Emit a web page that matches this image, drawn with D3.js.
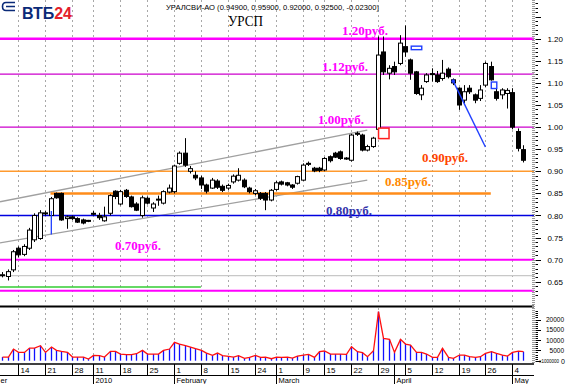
<!DOCTYPE html>
<html><head><meta charset="utf-8">
<script src="https://cdn.jsdelivr.net/npm/d3@7"></script>
<style>body{margin:0;background:#fff;overflow:hidden}svg{display:block}</style>
</head><body>
<svg id="c" width="568" height="384"></svg>
<script>
// ---------------- DATA ----------------
const dates = [
 "2009-12-09","2009-12-10","2009-12-11","2009-12-14","2009-12-15","2009-12-16","2009-12-17","2009-12-18",
 "2009-12-21","2009-12-22","2009-12-23","2009-12-24","2009-12-25","2009-12-28","2009-12-29","2009-12-30","2009-12-31",
 "2010-01-11","2010-01-12","2010-01-13","2010-01-14","2010-01-15","2010-01-18","2010-01-19","2010-01-20","2010-01-21","2010-01-22",
 "2010-01-25","2010-01-26","2010-01-27","2010-01-28","2010-01-29",
 "2010-02-01","2010-02-02","2010-02-03","2010-02-04","2010-02-05","2010-02-08","2010-02-09","2010-02-10","2010-02-11","2010-02-12",
 "2010-02-15","2010-02-16","2010-02-17","2010-02-18","2010-02-19","2010-02-24","2010-02-25","2010-02-26","2010-02-27",
 "2010-03-01","2010-03-02","2010-03-03","2010-03-04","2010-03-05","2010-03-09","2010-03-10","2010-03-11","2010-03-12",
 "2010-03-15","2010-03-16","2010-03-17","2010-03-18","2010-03-19","2010-03-22","2010-03-23","2010-03-24","2010-03-25","2010-03-26",
 "2010-03-29","2010-03-30","2010-03-31",
 "2010-04-01","2010-04-02","2010-04-05","2010-04-06","2010-04-07","2010-04-08","2010-04-09","2010-04-12","2010-04-13","2010-04-14",
 "2010-04-15","2010-04-16","2010-04-19","2010-04-20","2010-04-21","2010-04-22","2010-04-23","2010-04-26","2010-04-27","2010-04-28",
 "2010-04-29","2010-04-30","2010-05-04","2010-05-05","2010-05-06"
];
const open = [
 .665,.662,.677,.726,.712,.726,.745,.748,.804,.800,.850,.850,.793,.797,.793,.790,.789,
 .805,.800,.788,.805,.855,.826,.857,.842,.826,.800,.839,.817,.836,.828,.853,
 .854,.918,.941,.900,.891,.885,.869,.862,.878,.866,.862,.876,.880,.880,.862,.850,.850,.850,.835,
 .859,.876,.874,.869,.873,.880,.918,.907,.907,.903,.933,.941,.944,.930,.925,.986,.982,.948,.956,
 .995,1.170,1.122,1.137,1.144,1.182,1.152,1.125,1.073,1.103,1.121,1.118,1.110,1.131,1.107,1.088,1.061,1.088,1.073,1.065,
 1.095,1.137,1.080,1.073,1.076,1.078,.990,.949
];
const high = [
 .672,.678,.722,.730,.735,.772,.805,.812,.810,.842,.852,.852,.800,.800,.796,.793,.790,
 .810,.806,.820,.848,.857,.858,.860,.845,.830,.845,.843,.830,.845,.857,.870,
 .915,.945,.975,.912,.900,.890,.872,.885,.882,.870,.872,.893,.907,.884,.865,.860,.853,.853,.860,
 .878,.879,.876,.871,.890,.918,.922,.910,.910,.932,.936,.944,.947,.932,.985,.990,.985,.960,.978,
 1.205,1.205,1.140,1.148,1.208,1.230,1.155,1.127,1.095,1.122,1.133,1.127,1.152,1.135,1.110,1.090,1.095,1.095,1.076,1.095,
 1.148,1.148,1.088,1.088,1.088,1.088,.997,.959
];
const low = [
 .660,.653,.672,.705,.708,.722,.740,.745,.800,.797,.838,.788,.770,.790,.783,.780,.785,
 .800,.790,.786,.800,.837,.823,.840,.818,.810,.795,.825,.808,.822,.825,.850,
 .850,.915,.910,.895,.880,.860,.850,.860,.860,.853,.858,.872,.877,.862,.850,.846,.835,.812,.832,
 .856,.868,.866,.860,.870,.878,.912,.898,.898,.900,.920,.930,.926,.926,.922,.980,.945,.945,.953,
 .990,1.118,1.108,1.118,1.140,1.159,1.107,1.073,1.061,1.100,1.103,1.100,1.105,1.110,1.095,1.039,1.054,1.075,1.054,1.059,
 1.090,1.105,1.060,1.063,1.042,.995,.945,.920
];
const close = [
 .666,.673,.718,.711,.730,.767,.800,.806,.806,.838,.840,.790,.797,.793,.785,.783,.787,
 .804,.795,.797,.845,.843,.854,.843,.820,.812,.840,.828,.826,.837,.854,.862,
 .912,.941,.914,.906,.885,.869,.855,.880,.864,.857,.868,.889,.891,.865,.854,.856,.839,.835,.857,
 .874,.871,.869,.864,.888,.914,.917,.901,.902,.929,.924,.932,.929,.928,.982,.985,.948,.956,.975,
 1.163,1.125,1.133,1.125,1.190,1.170,1.122,1.076,1.088,1.118,1.119,1.103,1.122,1.114,1.100,1.050,1.080,1.080,1.061,1.084,
 1.144,1.107,1.065,1.084,1.083,1.000,.952,.925
];
const volume = [
 1780,1780,5660,4045,4045,6150,6150,7280,4045,6630,5015,4530,4045,1780,1780,1780,810,
 2590,2430,1780,4530,4530,3240,2910,2910,3400,5015,3240,3240,3240,5015,5660,
 8900,8090,7280,6630,5820,5015,3720,2590,3720,2430,2100,1780,2430,1130,1620,2590,1620,1780,970,
 1780,1620,1780,1290,2265,2750,3075,1620,4370,4690,3235,3235,3235,3075,6800,4370,3880,1940,4850,
 23785,10840,10355,4045,10355,8090,7600,4045,4045,3235,1620,1620,5990,1620,1130,2750,2750,1940,1620,1940,
 3560,4370,3560,2750,2265,4045,4690,4370
];
const priceTickValues = [0.65,0.70,0.75,0.80,0.85,0.90,0.95,1.00,1.05,1.10,1.15,1.20];
const volumeTickValues = [5000,10000,15000,20000];
const weekTicks = [
 ["2009-12-14","14"],["2009-12-21","21"],["2009-12-28","28"],["2010-01-11","11"],["2010-01-18","18"],
 ["2010-01-25","25"],["2010-02-01","1"],["2010-02-08","8"],["2010-02-15","15"],["2010-02-24","24"],
 ["2010-03-01","1"],["2010-03-09","9"],["2010-03-15","15"],["2010-03-22","22"],["2010-03-29","29"],
 ["2010-04-05","5"],["2010-04-12","12"],["2010-04-19","19"],["2010-04-26","26"],["2010-05-04","4"]
];
const monthTicks = [
 ["2010-01-11","2010"],["2010-02-01","February"],["2010-03-01","March"],["2010-04-01","April"],["2010-05-04","May"]
];
const firstMonthTail = "er"; // visible tail of "December" at the left edge
const levelPrices = [1.20,1.12,1.00,0.90,0.85,0.80,0.70,0.63];
const levelLabels = ["1.20руб.","1.12руб.","1.00руб.","0.90руб.","0.85руб.","0.80руб.","0.70руб.",""];
const title = "УРАЛСВИ-АО (0.94900, 0.95900, 0.92000, 0.92500, -0.02300)";
const subtitle = "УРСП";
// annotations in data terms
const upperTrend = [["2009-12-09",0.832],["2010-03-25",0.993]];
const lowerTrend = [["2009-12-09",0.739],["2010-03-25",0.880]];
const downLine = [["2010-04-16",1.104],["2010-04-26",0.955]];
const grayLevel = 0.664, greenLevel = 0.638;
const greenEnd = "2010-02-08";
const orangeSpan = ["2009-12-22","2010-04-27"];

// ---------------- LAYOUT / STYLE ----------------
const svg = d3.select("#c");
const plotRight = 534;
const x = d3.scalePoint().domain(dates).range([2.2, 523]);
const y = d3.scaleLinear().domain([0.70, 1.20]).range([259.7, 38.7]);
const yv = d3.scaleLinear().domain([0, 20000]).range([360.7, 319.5]);
const X = d => Math.round(x(d)) + 0.5;
const SANS = "'Liberation Sans',Arial,sans-serif";

const levelStyle = [
 {c:"#ff00ff", w:2.5, lc:"#ff00ff", lx:342, ly:-4},
 {c:"#cc00cc", w:1.3, lc:"#ff00ff", lx:322, ly:-3},
 {c:"#cc00cc", w:1.3, lc:"#ff00ff", lx:318, ly:-3},
 {c:"#ff9a2e", w:1.6, lc:"#ff4400", lx:422, ly:-9},
 {c:"#ff8c1a", w:2.5, lc:"#ff8800", lx:385, ly:-7},
 {c:"#0000e0", w:1.6, lc:"#3333aa", lx:326, ly:-0.5},
 {c:"#ff00ff", w:2, lc:"#ff00ff", lx:115, ly:-10},
 {c:"#ff00ff", w:2, lc:"#ff00ff", lx:0, ly:0}
];

// ---- vertical dashed grid ----
const grid = svg.append("g");
weekTicks.forEach(([d]) => {
  grid.append("line").attr("x1",X(d)).attr("x2",X(d)).attr("y1",0).attr("y2",305)
    .attr("stroke","#a8a8a8").attr("stroke-dasharray","2,3");
  grid.append("line").attr("x1",X(d)).attr("x2",X(d)).attr("y1",308).attr("y2",363)
    .attr("stroke","#a8a8a8").attr("stroke-dasharray","2,3");
});

// ---- horizontal guide lines ----
svg.append("line").attr("x1",0).attr("x2",plotRight).attr("y1",y(grayLevel)).attr("y2",y(grayLevel))
  .attr("stroke","#c8c8c8").attr("stroke-width",1.2);
svg.append("line").attr("x1",0).attr("x2",x(greenEnd)).attr("y1",y(greenLevel)).attr("y2",y(greenLevel))
  .attr("stroke","#33cc33").attr("stroke-width",1.5);

// trend lines (extended to the left edge)
function extend(seg){
  const x0=x(seg[0][0]), x1=x(seg[1][0]), y0=y(seg[0][1]), y1=y(seg[1][1]);
  const s=(y1-y0)/(x1-x0);
  return [[0, y0 - s*x0],[x1,y1]];
}
[upperTrend, lowerTrend].forEach(seg => {
  const p = extend(seg);
  svg.append("line").attr("x1",p[0][0]).attr("y1",p[0][1]).attr("x2",p[1][0]).attr("y2",p[1][1])
    .attr("stroke","#a0a0a0").attr("stroke-width",1.3);
});

// level lines
levelPrices.forEach((p,i) => {
  const st = levelStyle[i];
  const x1 = p===0.85 ? x(orangeSpan[0]) : 0;
  const x2 = p===0.85 ? x(orangeSpan[1]) : plotRight;
  svg.append("line").attr("x1",x1).attr("x2",x2).attr("y1",y(p)).attr("y2",y(p))
    .attr("stroke",st.c).attr("stroke-width",st.w);
});

// ---- candles ----
const cg = svg.append("g");
dates.forEach((d,i) => {
  const cx = X(d);
  cg.append("line").attr("x1",cx).attr("x2",cx).attr("y1",y(high[i])).attr("y2",y(low[i]))
    .attr("stroke","#000").attr("stroke-width",1);
  const top = y(Math.max(open[i],close[i])), bot = y(Math.min(open[i],close[i]));
  const up = close[i] >= open[i];
  cg.append("rect").attr("x",cx-2).attr("width",4)
    .attr("y",top).attr("height",Math.max(bot-top,1))
    .attr("fill", up ? "#fff" : "#000").attr("stroke","#000").attr("stroke-width",1);
});

// annotations
svg.append("line").attr("x1",x(downLine[0][0])).attr("y1",y(downLine[0][1]))
  .attr("x2",x(downLine[1][0])).attr("y2",y(downLine[1][1]))
  .attr("stroke","#1f3fff").attr("stroke-width",1.4);
svg.append("circle").attr("cx",x(downLine[0][0])).attr("cy",y(downLine[0][1])).attr("r",1.8).attr("fill","#1f3fff");
svg.append("line").attr("x1",x("2009-12-22")+0.8).attr("x2",x("2009-12-22")+0.8)
  .attr("y1",y(0.81)).attr("y2",y(0.757)).attr("stroke","#1f3fff").attr("stroke-width",1.3);
svg.append("rect").attr("x",x("2010-03-29")+0.5).attr("y",y(1.00)+1).attr("width",10.5).attr("height",10.5)
  .attr("fill","#fff").attr("stroke","#ff2020").attr("stroke-width",1.5);
svg.append("rect").attr("x",x("2010-04-06")+1).attr("y",y(1.182)-0.5).attr("width",10.5).attr("height",3.5)
  .attr("fill","#fff").attr("stroke","#1f3fff").attr("stroke-width",1.4);
svg.append("rect").attr("x",x("2010-04-27")+0.5).attr("y",y(1.102)).attr("width",5.5).attr("height",6.5)
  .attr("fill","#fff").attr("stroke","#1f3fff").attr("stroke-width",1.4);

// level labels
levelPrices.forEach((p,i) => {
  if(!levelLabels[i]) return;
  const st = levelStyle[i];
  svg.append("text").attr("x",st.lx).attr("y",y(p)+st.ly).text(levelLabels[i])
    .attr("font-family","'Liberation Serif','Times New Roman',serif").attr("font-weight","bold")
    .attr("font-size","13px").attr("fill",st.lc);
});

// ---- volume panel ----
svg.append("line").attr("x1",0).attr("x2",plotRight).attr("y1",306.5).attr("y2",306.5)
  .attr("stroke","#000").attr("stroke-width",2);
const vg = svg.append("g");
dates.forEach((d,i) => {
  vg.append("line").attr("x1",X(d)).attr("x2",X(d)).attr("y1",yv(0)).attr("y2",yv(volume[i]))
    .attr("stroke","#1010ff").attr("stroke-width",1.3);
});
vg.append("path").datum(volume).attr("fill","none").attr("stroke","#ff1010").attr("stroke-width",1.3)
  .attr("d", d3.line().x((v,i)=>X(dates[i])).y(v=>yv(v)));

// ---- right axes ----
svg.append("line").attr("x1",533.5).attr("x2",533.5).attr("y1",0).attr("y2",364)
  .attr("stroke","#9a9a9a").attr("stroke-width",3).attr("stroke-dasharray","1,1");
d3.range(62, 129).map(v => v/100).forEach(v => {
  const major = Math.round(v*100) % 5 === 0;
  svg.append("line").attr("x1",535.5).attr("x2",major?541:538).attr("y1",Math.round(y(v))+0.5).attr("y2",Math.round(y(v))+0.5)
    .attr("stroke","#000");
});
priceTickValues.forEach(v => {
  svg.append("text").attr("x",563).attr("y",y(v)+3).attr("text-anchor","end")
    .attr("font-family",SANS).attr("font-size","8px").attr("fill","#000")
    .text(d3.format(".2f")(v));
});
d3.range(0, 24001, 1000).forEach(v => {
  const major = v % 5000 === 0;
  svg.append("line").attr("x1",535.5).attr("x2",major?541:538).attr("y1",Math.round(yv(v))+0.5).attr("y2",Math.round(yv(v))+0.5)
    .attr("stroke","#000");
});
volumeTickValues.forEach(v => {
  svg.append("text").attr("x",564).attr("y",yv(v)+2.5).attr("text-anchor","end")
    .attr("font-family",SANS).attr("font-size","6.5px").attr("fill","#000")
    .text(v);
});
svg.append("text").attr("x",559).attr("y",yv(0)+2).attr("text-anchor","end")
  .attr("font-family",SANS).attr("font-size","4.5px").text("x1000000");
svg.append("text").attr("x",565).attr("y",yv(0)+3).attr("text-anchor","end")
  .attr("font-family",SANS).attr("font-size","7px").text("0");

// ---- bottom date axis ----
svg.append("line").attr("x1",0).attr("x2",plotRight).attr("y1",364).attr("y2",364).attr("stroke","#000").attr("stroke-width",1.5);
svg.append("line").attr("x1",0).attr("x2",plotRight).attr("y1",375.5).attr("y2",375.5).attr("stroke","#000").attr("stroke-width",1);
weekTicks.forEach(([d,l]) => {
  svg.append("line").attr("x1",X(d)).attr("x2",X(d)).attr("y1",364).attr("y2",375).attr("stroke","#000");
  svg.append("text").attr("x",X(d)+2).attr("y",373).text(l)
    .attr("font-family",SANS).attr("font-size","8px").attr("fill","#000");
});
svg.append("line").attr("x1",X("2010-04-01")).attr("x2",X("2010-04-01")).attr("y1",364).attr("y2",384).attr("stroke","#000");
monthTicks.forEach(([d,l]) => {
  svg.append("line").attr("x1",X(d)).attr("x2",X(d)).attr("y1",375).attr("y2",384).attr("stroke","#000");
  svg.append("text").attr("x",X(d)+2).attr("y",383).text(l)
    .attr("font-family",SANS).attr("font-size","7.5px").attr("fill","#000");
});
svg.append("text").attr("x",0.5).attr("y",383).text(firstMonthTail)
  .attr("font-family",SANS).attr("font-size","7.5px").attr("fill","#000");

// ---- header ----
svg.append("text").attr("x",166).attr("y",10).text(title)
  .attr("font-family",SANS).attr("font-size","7.5px").attr("fill","#000")
  .attr("textLength",213).attr("lengthAdjust","spacingAndGlyphs");
svg.append("text").attr("x",228).attr("y",26).text(subtitle)
  .attr("font-family","'Liberation Serif','Times New Roman',serif").attr("font-size","14px").attr("fill","#000")
  .attr("textLength",35).attr("lengthAdjust","spacingAndGlyphs");

// logo
const logo = svg.append("g");
logo.append("path").attr("d","M15,2.5 H6 Q2.5,2.5 2.5,6.5 Q2.5,10.5 6,10.5 H15 M6,6.5 H15")
  .attr("fill","none").attr("stroke","#0a2a78").attr("stroke-width",1.6);
logo.append("text").attr("x",22).attr("y",18.5).attr("font-family",SANS)
  .attr("font-weight","bold").attr("font-size","16px")
  .call(t => { t.append("tspan").attr("fill","#0a2a78").text("ВТБ"); t.append("tspan").attr("fill","#e3202b").text("24"); });
</script>
</body></html>
